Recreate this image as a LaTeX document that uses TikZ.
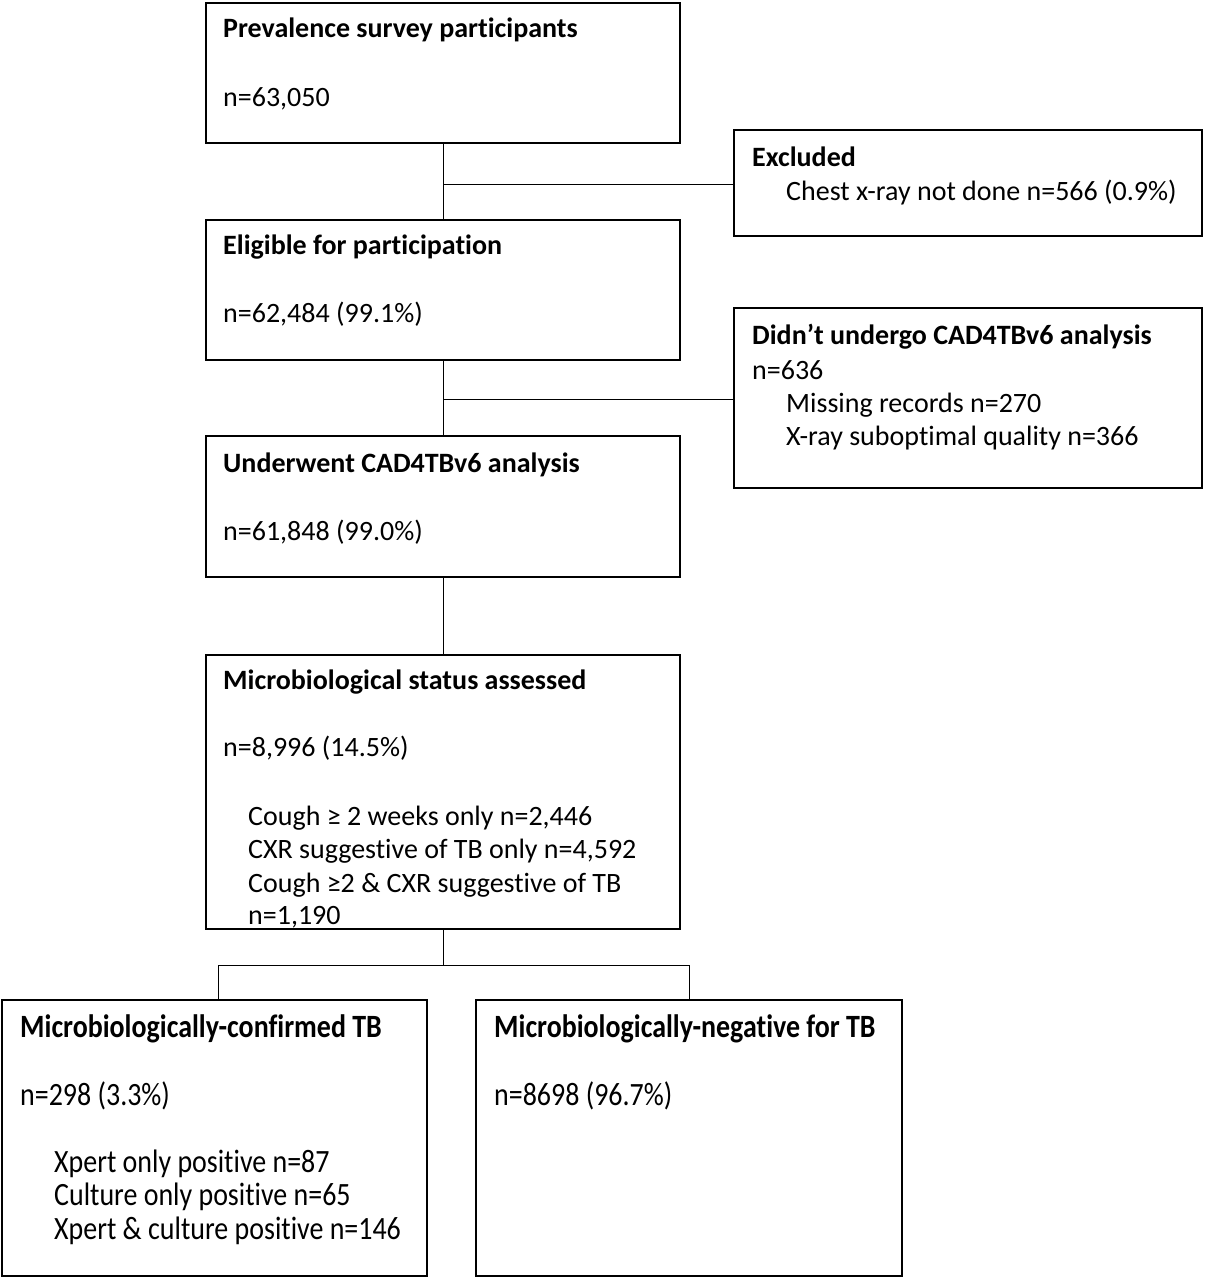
\documentclass[tikz,border=0pt]{standalone}
\usepackage{fontspec}
\setmainfont[Ligatures=NoCommon]{Carlito}
\newfontfamily\condfont[FakeStretch=0.86,Ligatures=NoCommon]{Carlito}
\begin{document}
\begin{tikzpicture}[x=1pt,y=-1pt,
  boxst/.style={draw=black,line width=2pt},
  conn/.style={draw=black,line width=1pt},
  txt/.style={anchor=base west,inner sep=0pt,font=\fontsize{28}{33}\selectfont},
  btxt/.style={txt,font=\fontsize{28}{33}\selectfont\bfseries},
  ctxt/.style={anchor=base west,inner sep=0pt,font=\fontsize{32.5}{38}\selectfont\condfont},
  cbtxt/.style={ctxt,font=\fontsize{32.5}{38}\selectfont\condfont\bfseries}]
\useasboundingbox[fill=white] (0,0) rectangle (1207,1280);
% boxes
\draw[boxst] (206,3) rectangle (680,143);
\coordinate (b1t) at (443,143);
\draw[boxst] (734,130) rectangle (1202,236);
\coordinate (exl) at (734,184);
\draw[boxst] (206,220) rectangle (680,360);
\coordinate (b2t) at (443,220);
\coordinate (b2b) at (443,360);
\draw[boxst] (734,308) rectangle (1202,488);
\coordinate (dnl) at (734,399);
\draw[boxst] (206,436) rectangle (680,577);
\coordinate (b3t) at (443,436);
\coordinate (b3b) at (443,577);
\draw[boxst] (206,655) rectangle (680,929);
\coordinate (b4t) at (443,655);
\coordinate (b4b) at (443,929);
\draw[boxst] (2,1000) rectangle (427,1276);
\coordinate (b5t) at (218,1000);
\draw[boxst] (476,1000) rectangle (902,1276);
\coordinate (b6t) at (689,1000);
% connectors
\coordinate (j1) at (443,184);
\coordinate (j2) at (443,399);
\coordinate (j3) at (443,965);
\draw[conn] (b1t) -- (b2t);
\draw[conn] (j1) -- (exl);
\draw[conn] (b2b) -- (b3t);
\draw[conn] (j2) -- (dnl);
\draw[conn] (b3b) -- (b4t);
\draw[conn] (b4b) -- (j3);
\draw[conn] (b5t) -- (218,965) -- (689,965) -- (b6t);
% texts
\node[btxt] (t1a) at (223,37) {Prevalence survey participants};
\node[txt] (t1b) at (223,106) {n=63,050};
\node[btxt] (t2a) at (752,166) {Excluded};
\node[txt] (t2b) at (786,200) {Chest x-ray not done n=566 (0.9\%)};
\node[btxt] (t3a) at (223,254) {Eligible for participation};
\node[txt] (t3b) at (223,322) {n=62,484 (99.1\%)};
\node[btxt] (t4a) at (752,344) {Didn’t undergo CAD4TBv6 analysis};
\node[txt] (t4b) at (752,379) {n=636};
\node[txt] (t4c) at (786,412) {Missing records n=270};
\node[txt] (t4d) at (786,445) {X-ray suboptimal quality n=366};
\node[btxt] (t5a) at (223,472) {Underwent CAD4TBv6 analysis};
\node[txt] (t5b) at (223,540) {n=61,848 (99.0\%)};
\node[btxt] (t6a) at (223,689) {Microbiological status assessed};
\node[txt] (t6b) at (223,756) {n=8,996 (14.5\%)};
\node[txt] (t6c) at (248,825) {Cough ≥ 2 weeks only n=2,446};
\node[txt] (t6d) at (248,858) {CXR suggestive of TB only n=4,592};
\node[txt] (t6e) at (248,892) {Cough ≥2 \& CXR suggestive of TB};
\node[txt] (t6f) at (248,924) {n=1,190};
\node[cbtxt] (t7a) at (20,1037) {Microbiologically-confirmed TB};
\node[ctxt] (t7b) at (20,1105) {n=298 (3.3\%)};
\node[ctxt] (t7c) at (54,1172) {Xpert only positive n=87};
\node[ctxt] (t7d) at (54,1205) {Culture only positive n=65};
\node[ctxt] (t7e) at (54,1239) {Xpert \& culture positive n=146};
\node[cbtxt] (t8a) at (494,1037) {Microbiologically-negative for TB};
\node[ctxt] (t8b) at (494,1105) {n=8698 (96.7\%)};
\end{tikzpicture}
\end{document}
